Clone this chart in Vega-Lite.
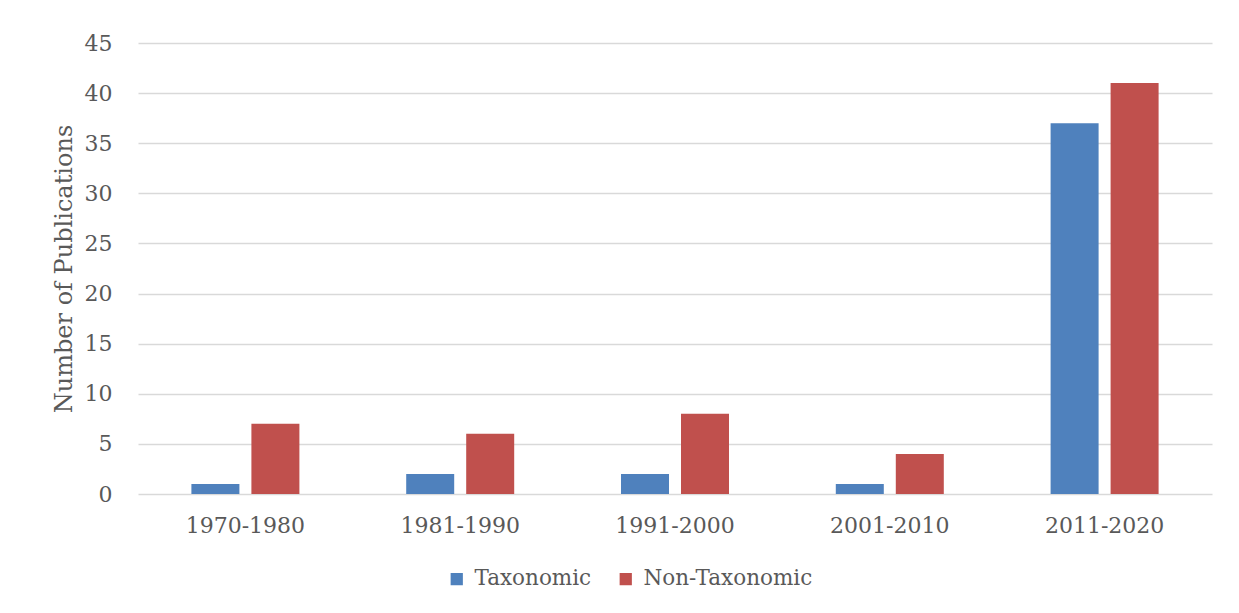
{
  "$schema": "https://vega.github.io/schema/vega-lite/v6.json",
  "width": 1074,
  "height": 451,
  "autosize": "none",
  "padding": {"left": 138, "top": 43, "right": 27, "bottom": 119},
  "background": "white",
  "config": {
    "font": "DejaVu Serif",
    "view": {"stroke": null},
    "axis": {"labelColor": "#595959", "titleColor": "#595959", "labelFont": "DejaVu Serif", "titleFont": "DejaVu Serif"}
  },
  "data": {
    "values": [
      {"decade": "1970-1980", "type": "Taxonomic", "count": 1},
      {"decade": "1970-1980", "type": "Non-Taxonomic", "count": 7},
      {"decade": "1981-1990", "type": "Taxonomic", "count": 2},
      {"decade": "1981-1990", "type": "Non-Taxonomic", "count": 6},
      {"decade": "1991-2000", "type": "Taxonomic", "count": 2},
      {"decade": "1991-2000", "type": "Non-Taxonomic", "count": 8},
      {"decade": "2001-2010", "type": "Taxonomic", "count": 1},
      {"decade": "2001-2010", "type": "Non-Taxonomic", "count": 4},
      {"decade": "2011-2020", "type": "Taxonomic", "count": 37},
      {"decade": "2011-2020", "type": "Non-Taxonomic", "count": 41}
    ]
  },
  "mark": {"type": "bar"},
  "encoding": {
    "x": {
      "field": "decade",
      "type": "nominal",
      "scale": {"paddingInner": 0, "paddingOuter": 0},
      "axis": {"title": null, "labelAngle": 0, "labelFontSize": 22, "labelPadding": 21, "ticks": false, "domain": false, "grid": false}
    },
    "xOffset": {
      "field": "type",
      "type": "nominal",
      "sort": ["Taxonomic", "Non-Taxonomic"],
      "scale": {"paddingInner": 0.2, "paddingOuter": 0.89}
    },
    "y": {
      "field": "count",
      "type": "quantitative",
      "scale": {"domain": [0, 45], "nice": false},
      "axis": {
        "title": "Number of Publications",
        "titleFontSize": 24,
        "titleFontWeight": "normal",
        "titlePadding": 8,
        "labelFontSize": 22,
        "labelPadding": 26,
        "values": [0, 5, 10, 15, 20, 25, 30, 35, 40, 45],
        "ticks": false,
        "domain": false,
        "gridColor": "#d9d9d9",
        "gridWidth": 1.5
      }
    },
    "color": {
      "field": "type",
      "type": "nominal",
      "sort": ["Taxonomic", "Non-Taxonomic"],
      "scale": {"domain": ["Taxonomic", "Non-Taxonomic"], "range": ["#4F81BD", "#C0504D"]},
      "legend": {
        "title": null,
        "orient": "none",
        "legendX": 308,
        "legendY": 525,
        "direction": "horizontal",
        "symbolType": "square",
        "symbolSize": 150,
        "symbolStrokeWidth": 0,
        "labelFontSize": 21.5,
        "labelColor": "#595959",
        "labelOffset": 7,
        "labelLimit": 400,
        "columnPadding": 23
      }
    }
  }
}
